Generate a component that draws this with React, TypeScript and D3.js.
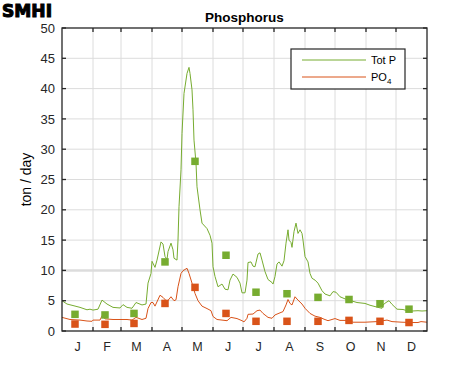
import React from "react";
import * as d3 from "d3";

// month letters and days per month
const monthLabels = ["J", "F", "M", "A", "M", "J", "J", "A", "S", "O", "N", "D"];
const monthDays = [31, 28, 31, 30, 31, 30, 31, 31, 30, 31, 30, 31];

// daily model series (day of year, ton/day)
const totPDays = [0, 5, 11, 18, 25, 28, 31, 36, 40, 45, 51, 58, 61, 65, 70, 74, 80, 84, 86, 89, 90, 93, 95, 99, 101, 103, 105, 106, 109, 111, 112, 115, 116, 117, 119, 120, 122, 125, 127, 128, 130, 131, 132, 134, 135, 138, 140, 145, 148, 150, 151, 153, 156, 160, 163, 166, 168, 171, 175, 178, 180, 183, 185, 186, 189, 191, 193, 196, 198, 200, 203, 206, 210, 211, 213, 215, 217, 220, 222, 224, 226, 227, 229, 230, 232, 234, 236, 238, 240, 241, 243, 246, 248, 250, 253, 256, 260, 263, 268, 271, 274, 278, 283, 290, 295, 303, 308, 316, 320, 321, 324, 327, 330, 335, 341, 345, 350, 356, 360, 365];
const totPValues = [5.0, 4.45, 4.2, 3.9, 3.5, 3.6, 3.45, 3.6, 5.1, 4.45, 3.9, 3.8, 4.35, 3.9, 3.75, 4.7, 4.3, 4.45, 7.9, 9.5, 11.5, 10.5, 11.7, 14.7, 14.35, 12.3, 11.8, 13.1, 14.5, 13.4, 12.0, 11.7, 15, 20.5, 26.6, 32.6, 39.2, 42.5, 43.5, 42.5, 39.8, 36.5, 31.5, 27.7, 23.8, 20, 17.8, 16.9, 15.8, 14.5, 10.6, 9.0, 7.3, 7.75, 6.9, 6.8, 8.4, 9.4, 8.85, 7.9, 6.3, 6.3, 8.4, 11.3, 11.4, 10.7, 10.6, 12.7, 12.9, 11.7, 9.8, 8.5, 8.0, 7.75, 9.0, 11.05, 11.4, 10.7, 11.6, 14.5, 16.7, 15, 14.6, 13.8, 16.4, 17.8, 16.1, 16.7, 16.1, 15.0, 12.3, 11.4, 9.5, 8.7, 8.4, 7.9, 6.65, 6.1, 5.8, 6.5, 6.4, 5.65, 5.3, 4.95, 4.7, 4.55, 4.25, 3.9, 3.75, 4.3, 4.7, 5.0, 4.4, 3.6, 3.55, 3.35, 3.3, 3.35, 3.3, 3.35];

const po4Days = [0, 8, 18, 25, 30, 31, 38, 40, 43, 51, 65, 70, 74, 80, 84, 86, 89, 91, 93, 98, 101, 105, 109, 112, 114, 116, 119, 121, 125, 127, 130, 133, 136, 140, 145, 149, 151, 155, 160, 165, 169, 175, 180, 182, 185, 186, 191, 195, 198, 201, 206, 210, 213, 218, 221, 224, 226, 228, 230, 233, 236, 240, 243, 248, 253, 258, 262, 266, 273, 278, 286, 291, 303, 315, 325, 330, 340, 350, 356, 359, 365];
const po4Values = [2.25, 1.9, 1.8, 1.65, 1.6, 1.8, 1.8, 2.5, 2.0, 1.9, 1.9, 1.8, 2.25, 1.9, 2.1, 3.7, 4.7, 4.7, 4.1, 5.9, 5.55, 4.85, 5.65, 5.0, 5.15, 7.3, 9.5, 9.95, 10.35, 9.5, 7.9, 6.2, 5.0, 4.1, 3.7, 3.35, 2.4, 1.9, 1.8, 1.7, 2.25, 2.05, 1.7, 1.5, 2.1, 2.75, 2.8, 3.35, 3.45, 2.9, 2.25, 2.1, 2.65, 3.0, 3.2, 4.3, 5.2, 4.55, 4.3, 5.65, 5.1, 4.45, 3.75, 2.9, 2.45, 2.25, 1.95, 1.7, 2.05, 1.75, 1.75, 1.45, 1.45, 1.55, 1.8, 1.55, 1.45, 1.4, 1.4, 1.55, 1.45];

// monthly measurements
const sampleDays = [13, 43, 72, 103, 133, 164, 194, 225, 256, 287, 318, 347];
const totPSamples = [2.75, 2.65, 2.9, 11.4, 28.0, 12.5, 6.4, 6.15, 5.55, 5.2, 4.5, 3.6];
const po4Samples = [1.15, 1.1, 1.25, 4.55, 7.2, 2.9, 1.6, 1.6, 1.6, 1.75, 1.6, 1.4];

const yTicks = [0, 5, 10, 15, 20, 25, 30, 35, 40, 45, 50];

const GREEN = "#77AC30";
const ORANGE = "#D95319";
const AXIS = "#262626";
const GRID = "#dcdcdc";
const FONT = "Liberation Sans, Arial, sans-serif";

export default function App() {
  const width = 471;
  const height = 371;
  const margin = { top: 28, right: 44, bottom: 40, left: 62 };
  const x0 = margin.left;
  const x1 = width - margin.right;
  const y0 = height - margin.bottom;
  const y1 = margin.top;

  const x = d3.scaleLinear().domain([0, 365]).range([x0, x1]);
  const y = d3.scaleLinear().domain([0, 50]).range([y0, y1]);

  const monthStarts = d3.cumsum([0, ...monthDays]);
  const boundaries = Array.from(monthStarts).slice(1, 12);
  const mids = monthDays.map((d, i) => monthStarts[i] + d / 2);

  const line = d3
    .line<[number, number]>()
    .x((d) => x(d[0]))
    .y((d) => y(d[1]));

  const totPPath = line(totPDays.map((d, i) => [d, totPValues[i]]));
  const po4Path = line(po4Days.map((d, i) => [d, po4Values[i]]));

  const sq = 7.5;
  const tick = 4;

  return (
    <svg
      width={width}
      height={height}
      style={{ position: "absolute", left: 0, top: 0, background: "#fff" }}
      fontFamily={FONT}
    >
      <rect width={width} height={height} fill="#fff" />

      {/* logo */}
      <text
        x={2}
        y={16.5}
        fontFamily="DejaVu Sans Condensed, DejaVu Sans, sans-serif"
        fontWeight="bold"
        fontSize={18}
        textLength={50}
        lengthAdjust="spacingAndGlyphs"
        fill="#000"
        stroke="#000"
        strokeWidth={1}
      >
        SMHI
      </text>

      {/* title */}
      <text x={(x0 + x1) / 2} y={22} textAnchor="middle" fontWeight="bold" fontSize={13.5} fill="#000">
        Phosphorus
      </text>

      {/* grid */}
      <g>
        {yTicks.slice(1, -1).map((t) => (
          <line
            key={"gy" + t}
            x1={x0}
            x2={x1}
            y1={y(t)}
            y2={y(t)}
            stroke={GRID}
            strokeWidth={t === 10 ? 2.5 : 1}
          />
        ))}
        {boundaries.map((b) => (
          <line key={"gx" + b} x1={x(b)} x2={x(b)} y1={y0} y2={y1} stroke={GRID} strokeWidth={1} />
        ))}
      </g>

      {/* series */}
      <path d={totPPath ?? ""} fill="none" stroke={GREEN} strokeWidth={1} />
      <path d={po4Path ?? ""} fill="none" stroke={ORANGE} strokeWidth={1} />

      {sampleDays.map((d, i) => (
        <rect
          key={"gs" + i}
          x={x(d) - sq / 2}
          y={y(totPSamples[i]) - sq / 2}
          width={sq}
          height={sq}
          fill={GREEN}
        />
      ))}
      {sampleDays.map((d, i) => (
        <rect
          key={"os" + i}
          x={x(d) - sq / 2}
          y={y(po4Samples[i]) - sq / 2}
          width={sq}
          height={sq}
          fill={ORANGE}
        />
      ))}

      {/* frame and ticks */}
      <rect x={x0} y={y1} width={x1 - x0} height={y0 - y1} fill="none" stroke={AXIS} strokeWidth={1.3} />
      {yTicks.map((t) => (
        <g key={"ty" + t}>
          <line x1={x0} x2={x0 + tick} y1={y(t)} y2={y(t)} stroke={AXIS} strokeWidth={1.3} />
          <line x1={x1} x2={x1 - tick} y1={y(t)} y2={y(t)} stroke={AXIS} strokeWidth={1.3} />
          <text x={x0 - 7} y={y(t)} dy="0.36em" textAnchor="end" fontSize={13} fill={AXIS}>
            {t}
          </text>
        </g>
      ))}
      {boundaries.map((b) => (
        <g key={"tx" + b}>
          <line x1={x(b)} x2={x(b)} y1={y0} y2={y0 - tick} stroke={AXIS} strokeWidth={1.3} />
          <line x1={x(b)} x2={x(b)} y1={y1} y2={y1 + tick} stroke={AXIS} strokeWidth={1.3} />
        </g>
      ))}
      {mids.map((m, i) => (
        <text key={"ml" + i} x={x(m)} y={y0 + 20} textAnchor="middle" fontSize={12.5} fill={AXIS}>
          {monthLabels[i]}
        </text>
      ))}

      {/* y label */}
      <text
        transform={`translate(31,${(y0 + y1) / 2}) rotate(-90)`}
        textAnchor="middle"
        fontSize={14}
        fill="#000"
      >
        ton / day
      </text>

      {/* legend */}
      <g transform="translate(291,49)">
        <rect width={114} height={40} fill="#fff" stroke={AXIS} strokeWidth={1.2} />
        <line x1={11} x2={75} y1={11} y2={11} stroke={GREEN} strokeWidth={1} />
        <text x={80} y={15} fontSize={11} fill="#000">
          Tot P
        </text>
        <line x1={11} x2={75} y1={28} y2={28} stroke={ORANGE} strokeWidth={1} />
        <text x={80} y={32} fontSize={11} fill="#000">
          PO
          <tspan fontSize={8} dy={3}>
            4
          </tspan>
        </text>
      </g>
    </svg>
  );
}
